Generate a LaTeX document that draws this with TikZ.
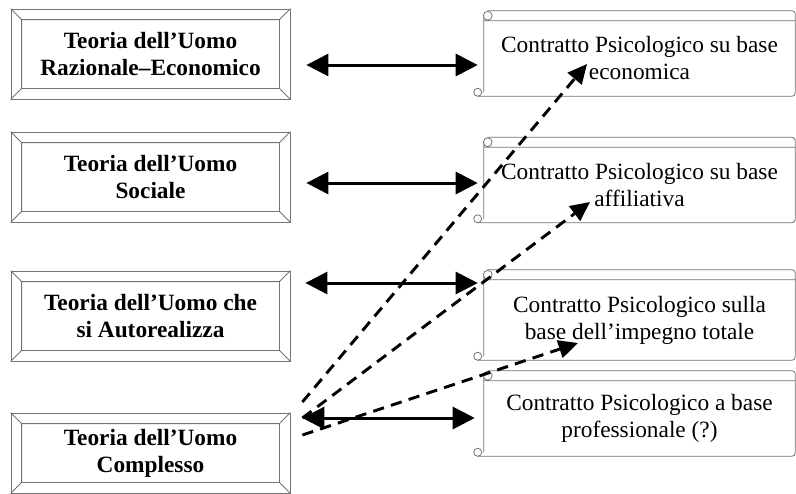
\documentclass[tikz,border=0pt]{standalone}
\usepackage{fontspec}
\setmainfont{Liberation Serif}
\usepackage{tikz}
\usetikzlibrary{arrows.meta, calc}

% frame with bevelled edges round a theory box
\newcommand{\bevelframe}[1]{%
  \draw[black!55,line width=0.6pt]
    ($(#1.north west)+(11,11)$) rectangle ($(#1.south east)+(-11,-11)$)
    (#1.north west) -- ($(#1.north west)+(11,11)$)
    (#1.north east) -- ($(#1.north east)+(-11,11)$)
    (#1.south east) -- ($(#1.south east)+(-11,-11)$)
    (#1.south west) -- ($(#1.south west)+(11,-11)$);}

% scroll round a contract box
\newcommand{\scrollframe}[1]{%
  \draw[black!55,line width=0.6pt,rounded corners=2.5pt]
    ($(#1.north west)+(4,-10)$) -- ($(#1.north east)+(0,-10)$)
    -- (#1.south east) -- ($(#1.south west)+(-6,0)$);
  \draw[black!55,line width=0.6pt]
    (#1.north west) -- (#1.north east)
    ($(#1.north west)+(0,-5)$) -- ($(#1.south west)+(0,-4)$)
    ($(#1.north west)+(4,-5)$) circle[radius=3.3pt]
    ($(#1.south west)+(-6,-4)$) circle[radius=3pt];}

\begin{document}
\begin{tikzpicture}[x=0.75pt,y=-0.75pt,>={Triangle[length=16.5pt,width=16.5pt]},
                    node distance=92.25pt]
   \tikzstyle{theory}=[rectangle,draw=black!55,line width=0.6pt,inner sep=0pt,
                       minimum width=209.25pt,minimum height=67.5pt,align=center,
                       font=\fontsize{17.5}{20.25}\selectfont\bfseries]
   \tikzstyle{contract}=[rectangle,inner sep=0pt,minimum width=233.25pt,
                         minimum height=56.25pt,align=center,
                         font=\fontsize{17.5}{20.25}\selectfont]
   \tikzstyle{link}=[<->,line width=2.25pt,shorten <=12pt,shorten >=4.5pt]
   \tikzstyle{maybe}=[->,>={Triangle[length=14.5pt,width=13.5pt]},line width=2.2pt,
                      dash pattern=on 8.5pt off 5.5pt]

   \useasboundingbox (0,0) rectangle (796,493);

   \node[theory]   (L1) at (150.5,54) {Teoria dell’Uomo\\Razionale–Economico};
   \node[theory]   (L2) [below of=L1] {Teoria dell’Uomo\\Sociale};
   \node[theory]   (L3) [below of=L2, node distance=104.25pt] {Teoria dell’Uomo che\\si Autorealizza};
   \node[theory, minimum height=60pt] (L4) [below of=L3, node distance=102.75pt]
                   {Teoria dell’Uomo\\Complesso};

   \node[contract] (R1) at (639.5,58.5) {Contratto Psicologico su base\\economica};
   \node[contract] (R2) [below of=R1, node distance=94.875pt] {Contratto Psicologico su base\\affiliativa};
   \node[contract, minimum height=60pt] (R3) [below of=R2, node distance=101.25pt]
                   {Contratto Psicologico sulla\\base dell’impegno totale};
   \node[contract] (R4) [below of=R3, node distance=73.875pt] {Contratto Psicologico a base\\professionale (?)};

   \bevelframe{L1} \bevelframe{L2} \bevelframe{L3} \bevelframe{L4}
   \scrollframe{R1} \scrollframe{R2} \scrollframe{R3} \scrollframe{R4}

   \path ($(L1.east)+(0,11)$) edge [link] ($(R1.west)+(0,6.5)$)
         ($(L2.east)+(0,6)$)  edge [link] ($(R2.west)+(0,-2)$)
         ($(L3.east)+(0,-33)$) edge [link, shorten <=11.25pt] ($(R3.west)+(0,-37)$)
         ($(L4.east)+(0,-35)$) edge [link, shorten <=9pt, shorten >=6.75pt] ($(R4.west)+(0,-0.5)$);

   \path ($(L4.east)+(12,-51)$) edge [maybe] ($(R1.center)+(-52.5,5.5)$)
         ($(L4.east)+(12,-35)$) edge [maybe] ($(R2.center)+(-49.5,17)$)
         ($(L4.east)+(12,-18)$) edge [maybe] ($(R3.center)+(-61.5,23)$);
\end{tikzpicture}
\end{document}
